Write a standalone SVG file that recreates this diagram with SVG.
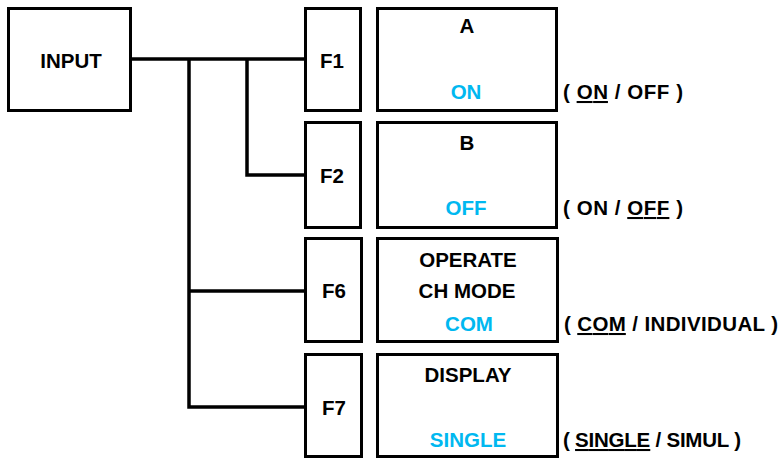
<svg xmlns="http://www.w3.org/2000/svg" width="781" height="459" viewBox="0 0 781 459">
<style>
.box{fill:#fff;stroke:#000;stroke-width:3}
.t{font-family:"Liberation Sans",Arial,sans-serif;font-weight:bold;font-size:20.5px;fill:#000;text-anchor:middle}
.v{fill:#00B8F0}
.r{font-family:"Liberation Sans",Arial,sans-serif;font-weight:bold;font-size:20.5px;fill:#000;text-anchor:start}
.u{text-decoration:underline}
.c{fill:none;stroke:#000;stroke-width:3.5}
</style>
<rect width="781" height="459" fill="#fff"/>
<g id="connectors">
<path class="c" d="M131 59 H305"/>
<path class="c" d="M189 59 V407 H305"/>
<path class="c" d="M189 291 H305"/>
<path class="c" d="M247 59 V175 H305"/>
</g>
<g id="input"><rect class="box" x="8.5" y="8.5" width="122" height="102"/><text class="t" x="71" y="68">INPUT</text></g>
<g id="f1"><rect class="box" x="305.5" y="8.5" width="55" height="102"/><text class="t" x="332" y="68">F1</text></g>
<g id="f2"><rect class="box" x="305.5" y="122.5" width="55" height="105"/><text class="t" x="332" y="183">F2</text></g>
<g id="f6"><rect class="box" x="305.5" y="238.5" width="56" height="103"/><text class="t" x="334" y="298">F6</text></g>
<g id="f7"><rect class="box" x="305.5" y="354.5" width="56" height="102"/><text class="t" x="334" y="415">F7</text></g>
<g id="a"><rect class="box" x="377.5" y="8.5" width="179" height="102"/><text class="t" x="467" y="33">A</text><text class="t v" x="466" y="99">ON</text></g>
<g id="b"><rect class="box" x="377.5" y="122.5" width="179" height="105"/><text class="t" x="467" y="150">B</text><text class="t v" x="466" y="215">OFF</text></g>
<g id="op"><rect class="box" x="377.5" y="238.5" width="180" height="103"/><text class="t" x="468" y="267">OPERATE</text><text class="t" x="467" y="298">CH MODE</text><text class="t v" x="469" y="331">COM</text></g>
<g id="disp"><rect class="box" x="377.5" y="354.5" width="180" height="102"/><text class="t" x="468" y="382">DISPLAY</text><text class="t v" x="468" y="447">SINGLE</text></g>
<g id="labels">
<text class="r" x="563" y="99" textLength="120" lengthAdjust="spacing">( <tspan class="u">ON</tspan> / OFF )</text>
<text class="r" x="563" y="215" textLength="120" lengthAdjust="spacing">( ON / <tspan class="u">OFF</tspan> )</text>
<text class="r" x="564" y="331" textLength="214" lengthAdjust="spacing">( <tspan class="u">COM</tspan> / INDIVIDUAL )</text>
<text class="r" x="563" y="447" textLength="178" lengthAdjust="spacing">( <tspan class="u">SINGLE</tspan> / SIMUL )</text>
</g>
</svg>
